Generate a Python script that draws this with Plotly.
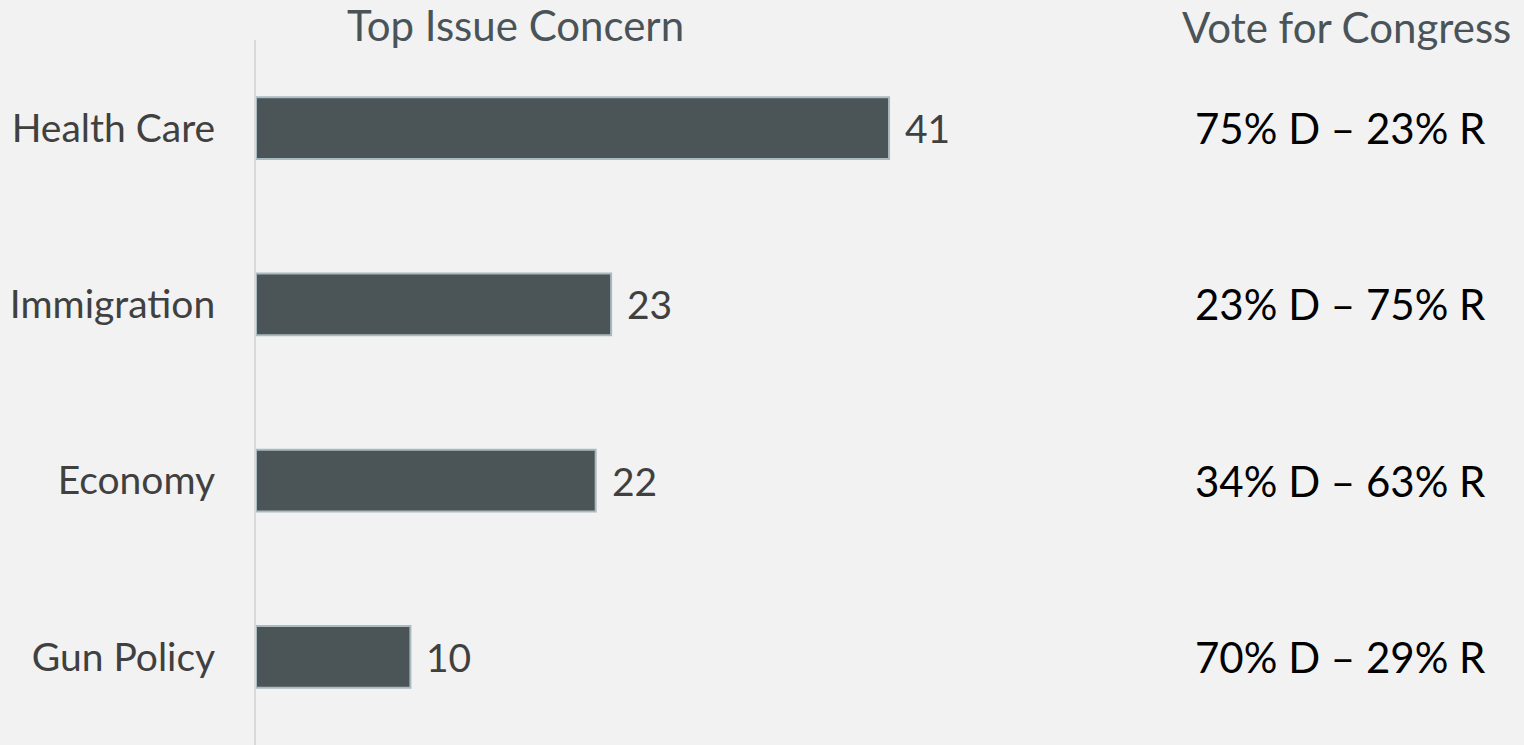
import plotly.graph_objects as go

# Survey data
issues = ["Health Care", "Immigration", "Economy", "Gun Policy"]
concern_pct = [41, 23, 22, 10]
vote_split = ["75% D \u2013 23% R", "23% D \u2013 75% R", "34% D \u2013 63% R", "70% D \u2013 29% R"]

FONT = "Lato"
BG = "#f2f2f2"

fig = go.Figure()
fig.add_trace(go.Bar(
    x=concern_pct,
    y=issues,
    orientation="h",
    width=0.35,
    marker=dict(color="#4b5457", line=dict(color="#a9bac1", width=2)),
    hoverinfo="skip",
))

# value labels next to each bar
for v, cat in zip(concern_pct, issues):
    fig.add_annotation(x=v, y=cat, xref="x", yref="y", text=str(v),
                       showarrow=False, xanchor="left", xshift=14,
                       font=dict(family=FONT, size=39, color="#404040"))

# vote-for-congress column
for txt, cat in zip(vote_split, issues):
    fig.add_annotation(x=1340, y=cat, xref="paper", yref="y", text=txt,
                       showarrow=False, xanchor="center",
                       font=dict(family=FONT, size=42, color="#000000"))

fig.add_annotation(x=515, y=25, xref="paper", yref="paper", text="Top Issue Concern",
                   showarrow=False, xanchor="center", yanchor="middle",
                   font=dict(family=FONT, size=42, color="#4a5458"))
fig.add_annotation(x=1346, y=27, xref="paper", yref="paper", text="Vote for Congress",
                   showarrow=False, xanchor="center", yanchor="middle",
                   font=dict(family=FONT, size=42, color="#4a5458"))

W, H = 1524, 745
L, T, R = 256, 40, 524
PW = W - L - R
PH = H - T

# convert header/column positions from pixels to paper coordinates
for a in fig.layout.annotations:
    if a.xref == "paper":
        a.x = (a.x - L) / PW
    if a.yref == "paper":
        a.y = (H - a.y) / PH

fig.update_layout(
    width=W, height=H,
    margin=dict(l=L, r=R, t=T, b=0, pad=0),
    paper_bgcolor=BG, plot_bgcolor=BG,
    showlegend=False,
    xaxis=dict(range=[0, PW / 15.44], showgrid=False, zeroline=False,
               showticklabels=False, showline=False, fixedrange=True,
               automargin=False),
    yaxis=dict(categoryorder="array", categoryarray=issues[::-1],
               range=[-0.5, 3.5], showgrid=False, zeroline=False,
               showline=True, linecolor="#d9d9d9", linewidth=2,
               ticks="", ticklabelstandoff=31, automargin=False,
               tickfont=dict(family=FONT, size=39, color="#404040")),
)

fig.write_html("out.html")
